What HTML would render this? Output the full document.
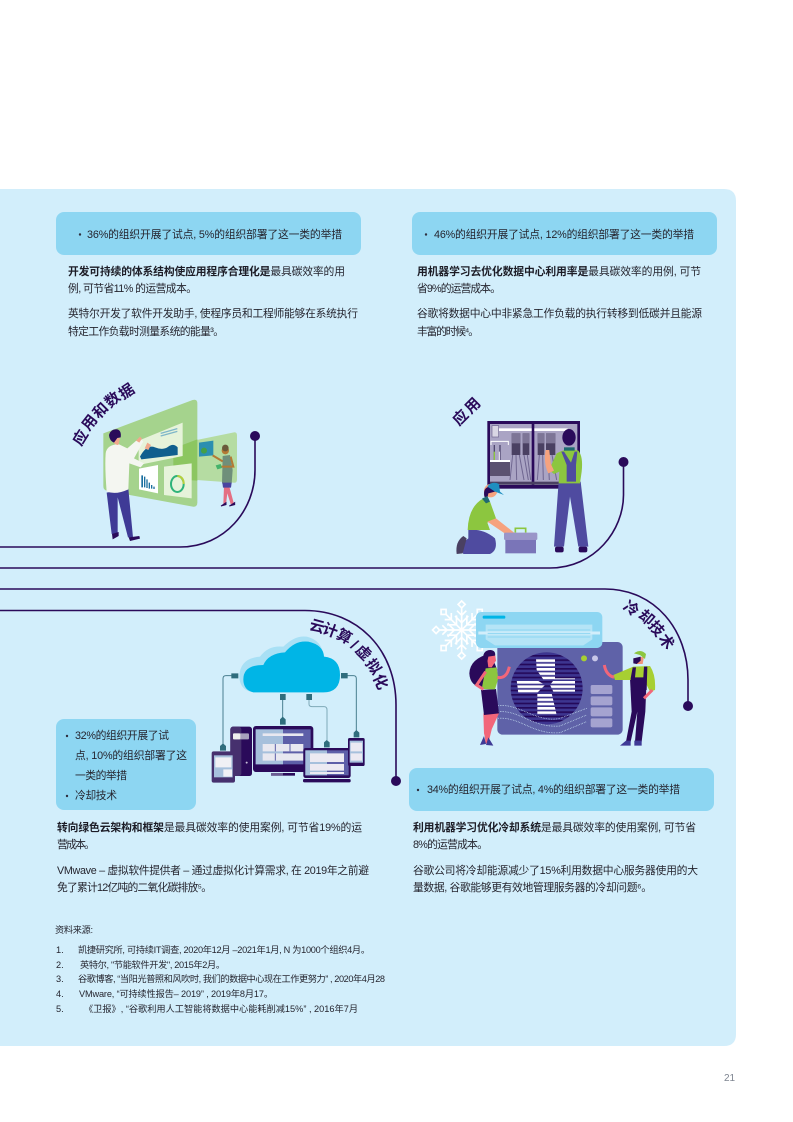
<!DOCTYPE html>
<html lang="zh"><head><meta charset="utf-8"><title>21</title>
<style>
html,body{margin:0;padding:0;background:#fff}
svg{display:block}
text{font-family:"Liberation Sans","Noto Sans CJK SC",sans-serif;fill:#25252f;font-size:10.8px}
.f text,text.f{font-size:9.2px}
.b{font-weight:700;fill:#1c1c26}
.l text{font-size:15px;font-weight:700;fill:#2a0a5a;text-anchor:middle;dominant-baseline:central}
</style></head><body>
<svg width="793" height="1122" viewBox="0 0 793 1122" xmlns="http://www.w3.org/2000/svg">
<defs>
<pattern id="ws" width="10" height="13" patternUnits="userSpaceOnUse"><rect width="10" height="8" fill="#fff"/></pattern>
<pattern id="ds" width="10" height="13" patternUnits="userSpaceOnUse"><rect width="10" height="13" fill="#3d3590"/><rect width="10" height="5" fill="#24095a"/></pattern>
<g id="arm"><path d="M0 0V-66M0 -22L-20 -42M0 -22L20 -42M0 -44L-14 -58M0 -44L14 -58" stroke="#fff" stroke-width="5" fill="none"/><rect x="-8" y="-84" width="15" height="15" fill="#d2eefb" stroke="#fff" stroke-width="5" transform="rotate(45 0 -76)"/></g>
</defs>
<rect width="793" height="1122" fill="#fff"/>
<path d="M0 189H724Q736 189 736 201V1034Q736 1046 724 1046H0Z" fill="#d2eefb"/>

<!-- pills -->
<g fill="#8dd6f2">
<rect x="56" y="212" width="305" height="43" rx="8"/>
<rect x="412" y="212" width="305" height="43" rx="8"/>
<rect x="56" y="719" width="140" height="91" rx="8"/>
<rect x="409" y="768" width="305" height="43" rx="8"/>
</g>
<g fill="#2f3040">
<circle cx="80" cy="234.500" r="1.200"/><circle cx="426" cy="234.500" r="1.200"/>
<circle cx="67" cy="736" r="1.200"/><circle cx="67" cy="796" r="1.200"/><circle cx="418" cy="790" r="1.200"/>
</g>

<!-- body text -->
<text x="87" y="238" textLength="255">36%的组织开展了试点, 5%的组织部署了这一类的举措</text>
<text x="68" y="275" textLength="277"><tspan class="b">开发可持续的体系结构使应用程序合理化是</tspan>最具碳效率的用</text>
<text x="68" y="292" textLength="129">例, 可节省11% 的运营成本。</text>
<text x="68" y="317" textLength="290">英特尔开发了软件开发助手, 使程序员和工程师能够在系统执行</text>
<text x="68" y="335" textLength="156">特定工作负载时测量系统的能量³。</text>

<text x="434" y="238" textLength="260">46%的组织开展了试点, 12%的组织部署了这一类的举措</text>
<text x="417" y="275" textLength="284"><tspan class="b">用机器学习去优化数据中心利用率是</tspan>最具碳效率的用例, 可节</text>
<text x="417" y="292" textLength="84">省9%的运营成本。</text>
<text x="417" y="317" textLength="285">谷歌将数据中心中非紧急工作负载的执行转移到低碳并且能源</text>
<text x="417" y="335" textLength="62">丰富的时候⁴。</text>

<text x="75" y="739" textLength="94">32%的组织开展了试</text>
<text x="75" y="759" textLength="112">点, 10%的组织部署了这</text>
<text x="75" y="779" textLength="52">一类的举措</text>
<text x="75" y="799" textLength="42">冷却技术</text>

<text x="57" y="831" textLength="305"><tspan class="b">转向绿色云架构和框架</tspan>是最具碳效率的使用案例, 可节省19%的运</text>
<text x="57" y="848" textLength="38">营成本。</text>
<text x="57" y="874" textLength="312">VMwave – 虚拟软件提供者 – 通过虚拟化计算需求, 在 2019年之前避</text>
<text x="57" y="891" textLength="155">免了累计12亿吨的二氧化碳排放⁵。</text>

<text x="427" y="793" textLength="253">34%的组织开展了试点, 4%的组织部署了这一类的举措</text>
<text x="413" y="831" textLength="283"><tspan class="b">利用机器学习优化冷却系统</tspan>是最具碳效率的使用案例, 可节省</text>
<text x="413" y="848" textLength="75">8%的运营成本。</text>
<text x="413" y="874" textLength="285">谷歌公司将冷却能源减少了15%利用数据中心服务器使用的大</text>
<text x="413" y="891" textLength="239">量数据, 谷歌能够更有效地管理服务器的冷却问题⁶。</text>

<!-- sources -->
<g class="f">
<text x="55" y="933" textLength="38">资料来源:</text>
<text x="56" y="953">1.</text><text x="78" y="953" textLength="292">凯捷研究所, 可持续IT调查, 2020年12月 –2021年1月, N 为1000个组织4月。</text>
<text x="56" y="968">2.</text><text x="80" y="968" textLength="145">英特尔, "节能软件开发", 2015年2月。</text>
<text x="56" y="982">3.</text><text x="78" y="982" textLength="307">谷歌博客, “当阳光普照和风吹时, 我们的数据中心现在工作更努力” , 2020年4月28</text>
<text x="56" y="997">4.</text><text x="79" y="997" textLength="194">VMware, “可持续性报告– 2019” , 2019年8月17。</text>
<text x="56" y="1012">5.</text><text x="84" y="1012" textLength="274">《卫报》, “谷歌利用人工智能将数据中心能耗削减15%” , 2016年7月</text>
</g>
<text x="724" y="1081" style="font-size:10px;fill:#7d8490">21</text>

<!-- connectors -->
<g fill="none" stroke="#2a0a5a" stroke-width="1.600">
<path d="M0 547H180C225 547 255 510 255 470V436"/>
<path d="M0 568H550C595 568 623.500 530 623.500 495V462"/>
<path d="M0 589H605C655 589 688 630 688 680V706" />
<path d="M0 610.500H305C358 610.500 396 650 396 705V781"/>
</g>
<g fill="#2a0a5a">
<circle cx="255" cy="436" r="5"/><circle cx="623.500" cy="462" r="5"/><circle cx="688" cy="706" r="5"/><circle cx="396" cy="781" r="5"/>
</g>

<!-- curved labels -->
<g class="l">
<text transform="translate(81 438) rotate(-58)">应</text>
<text transform="translate(90 423) rotate(-52)">用</text>
<text transform="translate(101 411) rotate(-45)">和</text>
<text transform="translate(113 400) rotate(-40)">数</text>
<text transform="translate(127 392) rotate(-34)">据</text>
<text transform="translate(461 418) rotate(-45)">应</text>
<text transform="translate(473 406) rotate(-45)">用</text>
<text transform="translate(317 627) rotate(15)">云</text>
<text transform="translate(330 631) rotate(20)">计</text>
<text transform="translate(344 637) rotate(28)">算</text>
<text transform="translate(354 645) rotate(38)">/</text>
<text transform="translate(363 653) rotate(45)">虚</text>
<text transform="translate(373 667) rotate(55)">拟</text>
<text transform="translate(380 682) rotate(65)">化</text>
<text transform="translate(631 609) rotate(35)">冷</text>
<text transform="translate(646 618) rotate(40)">却</text>
<text transform="translate(656 629) rotate(50)">技</text>
<text transform="translate(666 642) rotate(55)">术</text>
</g>

<!-- illustration 1 -->
<g transform="translate(40 200) scale(.33333)">
<path d="M190 700L458 600Q472 596 472 610V908Q472 922 458 920L200 872Q190 870 190 858Z" fill="#a5d38d"/>
<path d="M470 720L582 697Q591 696 591 706V838Q591 850 580 848L470 840Z" fill="#b5dca2"/>
<path d="M400 745L472 718V842L400 838Z" fill="#8cc660"/>
<path d="M296 722L428 668V768L296 795Z" fill="#e6f3da"/>
<path d="M300 770Q320 732 345 742T385 740T413 742V765L304 778Z" fill="#0f5f8e"/>
<path d="M362 700L412 686M362 708L412 694" stroke="#7fb6c8" stroke-width="4"/>
<path d="M297 806L354 795V880L297 868Z" fill="#fff"/>
<path d="M304 862V826H309V862ZM312 862V830H316V862ZM319 864V838H323V864ZM326 866V848H330V866ZM333 866V855H337V866ZM340 867V860H344V867Z" fill="#1a6f9f"/>
<path d="M372 800L455 790V895L372 885Z" fill="#e6f3da"/>
<ellipse cx="412" cy="852" rx="19" ry="24" fill="none" stroke="#2fb37a" stroke-width="6"/>
<path d="M412 828Q431 830 431 852" fill="none" stroke="#b6cf3c" stroke-width="6"/>
<path d="M477 728L520 722V766L477 770Z" fill="#2b8fb0"/>
<circle cx="492" cy="752" r="9" fill="#43a047"/>
<!-- man -->
<path d="M200 878L265 866L279 1012H264L233 892L233 1002H215Z" fill="#3f3a96"/>
<path d="M216 1002L236 996V1008L218 1018ZM266 1012L298 1008L300 1016L270 1023Z" fill="#2a0a5a"/>
<path d="M197 760Q200 735 235 732L262 745L298 714L310 724L282 775L312 790L302 802L268 790L265 868Q230 885 200 875Q194 800 197 760Z" fill="#f4f6f1"/>
<path d="M210 708Q220 735 235 735L240 715Z" fill="#f0a98c"/>
<path d="M207 705Q212 686 232 688Q245 692 242 712L232 714L222 728Q208 722 207 705Z" fill="#2a0a5a"/>
<path d="M288 722L300 710L306 716L298 728ZM314 745L322 728L333 735L325 750Z" fill="#f0a98c"/>
<!-- woman -->
<path d="M552 860L568 860L582 912L572 912L562 880L558 912H550Z" fill="#e46f83"/>
<path d="M543 918L558 908V914ZM568 918L584 908V914Z" fill="#2a0a5a" stroke="#2a0a5a" stroke-width="3"/>
<path d="M548 768L570 765L578 810L575 850H546Z" fill="#6f8f7a"/>
<path d="M547 848H575L573 863H549Z" fill="#4a45a0"/>
<path d="M518 766L548 784M572 770L580 800L544 800" stroke="#b47a35" stroke-width="6" fill="none"/>
<circle cx="556" cy="752" r="11" fill="#b47a35"/><circle cx="556" cy="744" r="10" fill="#6a5a3a"/>
<path d="M527 796L542 792L546 804L532 808Z" fill="#45b36b"/>
</g>

<!-- illustration 2 -->
<g transform="translate(400 200) scale(.33333)">
<rect x="262" y="663" width="278" height="203" fill="#2a0a5a"/>
<rect x="270" y="672" width="125" height="183" fill="#aaa4c4"/>
<rect x="403" y="672" width="129" height="183" fill="#aaa4c4"/>
<rect x="297" y="685" width="98" height="8" fill="#fff"/><rect x="403" y="685" width="100" height="8" fill="#fff"/>
<rect x="276" y="677" width="20" height="34" fill="#d9d6e4" stroke="#6f6690" stroke-width="2"/>
<path d="M273 735V724H325V735" fill="none" stroke="#fff" stroke-width="3"/>
<path d="M283 735V782M300 735V782" stroke="#4f4870" stroke-width="4"/>
<path d="M283 755V782" stroke="#8cc63f" stroke-width="4"/><path d="M298 755V782" stroke="#fff" stroke-width="3"/>
<rect x="335" y="700" width="26" height="65" fill="#4a4062"/><rect x="368" y="700" width="20" height="65" fill="#4a4062"/>
<rect x="413" y="700" width="20" height="65" fill="#4a4062"/><rect x="438" y="700" width="28" height="65" fill="#4a4062"/>
<rect x="335" y="700" width="26" height="30" fill="#7d7596"/><rect x="368" y="700" width="20" height="30" fill="#7d7596"/><rect x="413" y="700" width="20" height="30" fill="#7d7596"/><rect x="438" y="700" width="28" height="30" fill="#7d7596"/>
<path d="M338 765L330 840M348 765L350 840M358 765L372 840M372 765L385 840M382 765L392 840M418 765L412 840M428 765L430 840M444 765L448 840M456 765L470 840" stroke="#6f6690" stroke-width="3" fill="none"/>
<rect x="270" y="780" width="60" height="48" fill="#5b5170"/><rect x="270" y="780" width="60" height="6" fill="#fff"/>
<rect x="270" y="845" width="262" height="9" fill="#4a4062"/>
<!-- standing worker -->
<path d="M476 845H542L565 1040H535L510 890L492 1040H462Z" fill="#4f4ba0"/>
<rect x="465" y="1040" width="26" height="17" rx="6" fill="#2a0a5a"/><rect x="536" y="1040" width="26" height="17" rx="6" fill="#2a0a5a"/>
<path d="M470 760Q500 742 535 752Q550 770 545 815L540 850H476L478 815L462 822L447 810Z" fill="#8cc63f"/>
<path d="M445 820Q430 790 437 750L448 750L452 790L462 812Z" fill="#f6a27e"/>
<path d="M500 845V795L484 755H492L513 788L524 755H532L528 795V845Z" fill="#4f4ba0"/>
<ellipse cx="507" cy="712" rx="20" ry="25" fill="#2a0a5a"/>
<rect x="492" y="742" width="32" height="10" fill="#1f6a70"/>
<!-- kneeling worker -->
<path d="M205 990Q250 985 285 1015Q295 1050 270 1062H190L180 1035L205 1015Z" fill="#4f4ba0"/>
<path d="M170 1062Q165 1025 190 1008L200 1015L188 1060Z" fill="#4a4062"/>
<path d="M203 990Q205 920 250 895L270 905L288 955L262 968L270 990Z" fill="#8cc63f"/>
<path d="M262 965L288 955L345 1000L338 1016Z" fill="#f6a27e"/>
<circle cx="272" cy="872" r="20" fill="#f6a27e"/>
<path d="M253 890Q248 862 270 860L285 875L265 880L262 895Z" fill="#2a0a5a"/>
<path d="M262 860Q275 842 297 852L300 875L312 885L285 875Z" fill="#1f8fc0"/>
<path d="M246 896L262 888L270 905L258 910Z" fill="#1f6a70"/>
<!-- toolbox -->
<path d="M346 998V985H377V998" fill="none" stroke="#8cc63f" stroke-width="5"/>
<rect x="312" y="998" width="100" height="22" rx="4" fill="#9a95c8"/>
<rect x="316" y="1020" width="92" height="40" fill="#7a75b8"/>
</g>

<!-- illustration 3 -->
<g transform="translate(200 590) scale(.33333)">
<path d="M150 305Q118 295 118 258Q120 205 180 200Q205 165 250 170Q285 135 320 140Q365 150 372 200Q420 205 420 255Q420 307 370 307Z" fill="#a8e0f5"/>
<path d="M160 307Q130 300 130 268Q130 225 190 225Q205 190 255 187Q285 150 325 155Q370 165 372 200Q420 205 420 255Q420 307 370 307Z" fill="#00b5e6"/>
<g fill="none" stroke="#4a7f90" stroke-width="3">
<path d="M95 257H78Q69 257 69 266V462"/>
<path d="M248 325V385"/>
<path d="M327 328V342Q327 350 337 350H372Q381 350 381 360V452" stroke="#7fa9b8"/>
<path d="M442 257H460Q469 257 469 266V422"/>
</g>
<g fill="#2f6d7d">
<path d="M94 250H115V265H94ZM240 312H257V330H240ZM319 312H336V330H319ZM423 249H443V265H423Z"/>
<path d="M60 482H78V468L69 460L60 468ZM240 404H257V388L248 380L240 388ZM372 472H389V457L380 450L372 457ZM461 442H478V428L469 420L461 428Z"/>
</g>
<rect x="91" y="410" width="65" height="148" rx="8" fill="#2a0a5a"/><rect x="91" y="410" width="33" height="148" rx="8" fill="#46306e"/>
<rect x="99" y="430" width="48" height="18" rx="3" fill="#a8a0bc"/><rect x="99" y="430" width="22" height="18" rx="3" fill="#eee"/>
<circle cx="140" cy="518" r="3" fill="#c8c0d8"/>
<rect x="159" y="408" width="181" height="138" rx="9" fill="#2a0a5a"/>
<rect x="167" y="418" width="165" height="105" fill="#5d5fa8"/><rect x="167" y="418" width="82" height="105" fill="#a6c0dc"/>
<path d="M188 430H310V438H188ZM188 462H310V484H188ZM188 490H310V512H188Z" fill="#e8e8f0"/>
<path d="M226 462V484M270 462V484M226 490V512" stroke="#5d5fa8" stroke-width="3"/>
<rect x="213" y="549" width="72" height="8" fill="#2a0a5a"/><rect x="213" y="549" width="36" height="8" fill="#6a5c92"/>
<rect x="310" y="474" width="142" height="90" rx="7" fill="#2a0a5a"/>
<rect x="316" y="481" width="130" height="75" fill="#5d5fa8"/><rect x="316" y="481" width="65" height="75" fill="#a6c0dc"/>
<path d="M330 490H432V516H330ZM330 522H432V542H330ZM330 546H432V552H330Z" fill="#eceaf2"/>
<rect x="309" y="567" width="143" height="10" rx="4" fill="#2a0a5a"/>
<rect x="444" y="444" width="50" height="84" rx="5" fill="#2a0a5a"/>
<rect x="449" y="452" width="40" height="66" fill="#a6c0dc"/>
<path d="M452 458H486V484H452ZM452 490H486V512H452Z" fill="#eceaf2"/>
<rect x="35" y="484" width="70" height="94" rx="6" fill="#46306e"/>
<rect x="42" y="496" width="56" height="66" fill="#a6c0dc"/>
<path d="M46 502H94V532H46ZM70 538H96V560H70Z" fill="#f0f0f5"/>
</g>

<!-- illustration 4 -->
<g transform="translate(420 590) scale(.33333)">
<g transform="translate(125 120)">
<use href="#arm"/><use href="#arm" transform="rotate(45)"/><use href="#arm" transform="rotate(90)"/><use href="#arm" transform="rotate(135)"/><use href="#arm" transform="rotate(180)"/><use href="#arm" transform="rotate(225)"/><use href="#arm" transform="rotate(270)"/><use href="#arm" transform="rotate(315)"/>
</g>
<rect x="232" y="156" width="376" height="278" rx="16" fill="#5f62a8"/>
<rect x="168" y="66" width="379" height="108" rx="16" fill="#8dd6f2"/>
<rect x="188" y="77" width="68" height="9" rx="4" fill="#00b5e6"/>
<path d="M197 104H517V148L490 166H225L197 148Z" fill="#b5e4f6"/>
<path d="M175 129H540" stroke="#d2eefb" stroke-width="9"/>
<path d="M203 120H511M203 130H511M203 141H511" stroke="#8dd6f2" stroke-width="3"/>
<circle cx="380" cy="295" r="108" fill="url(#ds)"/>
<path d="M348 205H405V268H370L350 240ZM290 270H350L375 285L350 310H295ZM405 265H465V305H400L390 285ZM352 310H395L410 375H352Z" fill="url(#ws)"/>
<circle cx="492" cy="205" r="9" fill="#a7cf32"/><circle cx="525" cy="205" r="9" fill="#c8c6e8"/>
<g fill="#a5a3d0"><rect x="512" y="285" width="65" height="27" rx="5"/><rect x="512" y="319" width="65" height="27" rx="5"/><rect x="512" y="352" width="65" height="27" rx="5"/><rect x="512" y="385" width="65" height="27" rx="5"/></g>
<g fill="none" stroke="#d2eefb" stroke-width="2.500" stroke-dasharray="2 3">
<path d="M235 347C300 340 350 400 420 385T500 355"/>
<path d="M235 365C300 360 340 415 420 408T500 375"/>
<path d="M235 385C300 380 340 435 420 428T500 395"/>
</g>
<!-- woman -->
<path d="M212 190Q150 205 148 250Q150 290 190 292L232 240Z" fill="#2a0a5a"/>
<path d="M190 370L237 370L205 440L212 462H200L192 430ZM190 370L222 390L205 460H196Z" fill="#f2667a"/>
<path d="M180 465L192 438L198 462ZM198 465L205 442L220 467Z" fill="#3f3a96"/>
<path d="M183 300L228 297L237 370L192 375Z" fill="#2a0a5a"/>
<path d="M197 235L230 232L235 265L225 298L185 297Z" fill="#8cc63f"/>
<path d="M197 245L170 285L190 298M232 262Q260 268 268 230" fill="none" stroke="#f2667a" stroke-width="9"/>
<path d="M200 195L225 190L228 212L215 232L205 232Z" fill="#f2667a"/>
<path d="M190 215Q185 180 212 180Q228 182 225 197L205 200L200 225Z" fill="#2a0a5a"/>
<!-- man -->
<path d="M630 265L680 262L676 365L665 455H645L652 365L632 455H618L635 365Z" fill="#2a0a5a"/>
<path d="M600 467L618 452H632V467ZM643 467V452H665V467Z" fill="#3f3a96"/>
<path d="M640 230L690 228Q708 255 705 300L690 305L680 285L640 270L585 270L580 255Z" fill="#a7cf32"/>
<path d="M632 265L638 232H648L645 262H670L672 230H682L680 300H632Z" fill="#2a0a5a"/>
<path d="M582 262Q558 255 553 225M697 300L672 325" fill="none" stroke="#f2667a" stroke-width="9"/>
<path d="M640 205L672 200L668 222L648 222Z" fill="#f2947c"/>
<path d="M640 205L662 200L662 212L650 222L640 220Z" fill="#2a0a5a"/>
<path d="M642 190Q662 175 678 192L675 207L660 195Z" fill="#8cc63f"/>
</g>
</svg>
</body></html>
